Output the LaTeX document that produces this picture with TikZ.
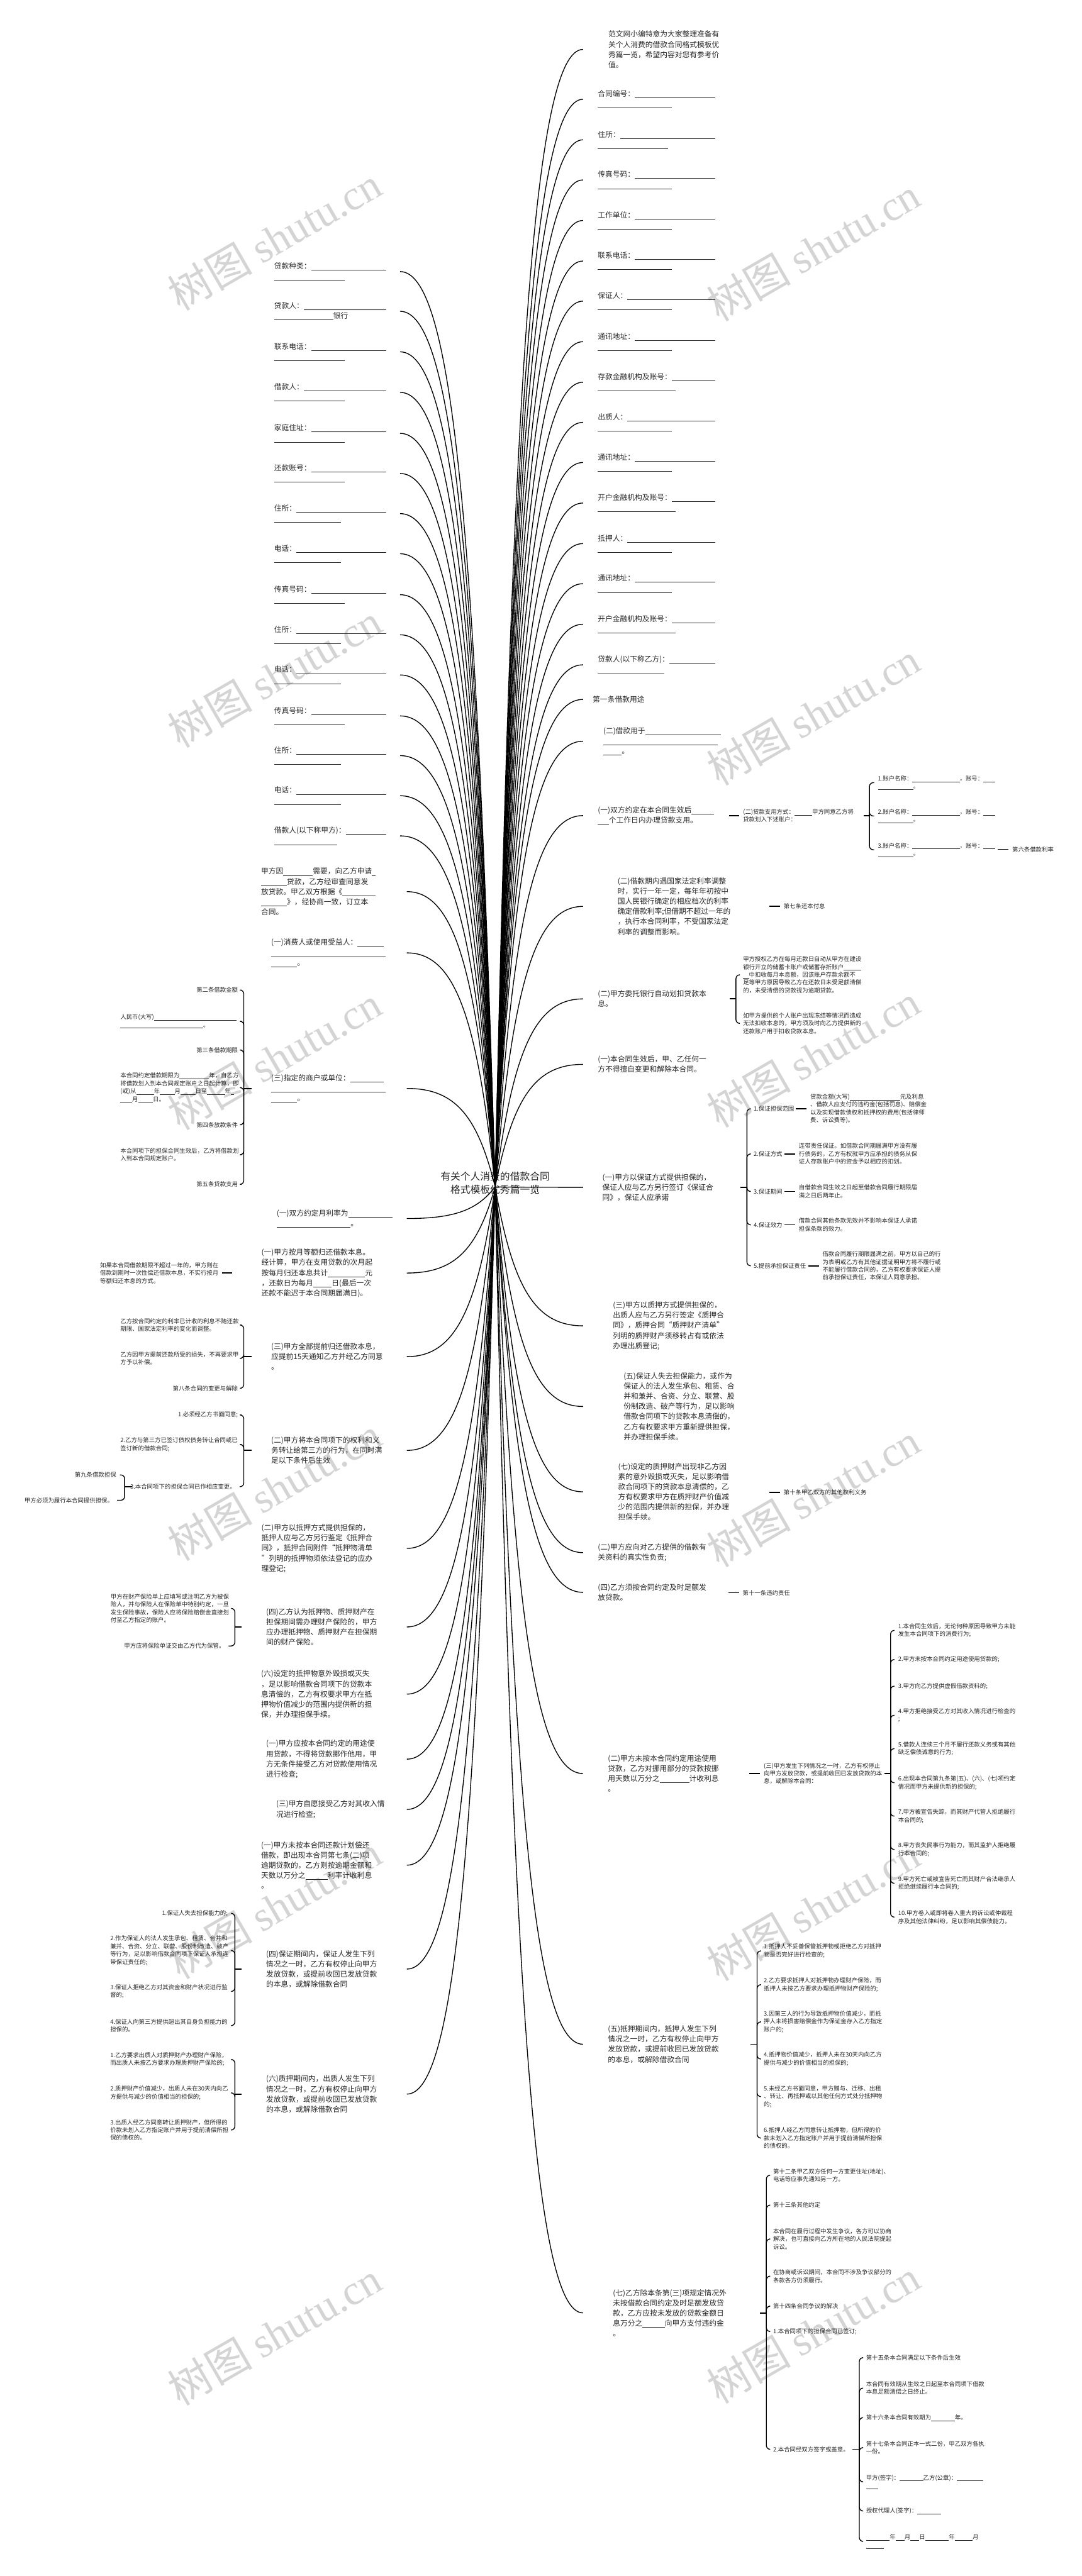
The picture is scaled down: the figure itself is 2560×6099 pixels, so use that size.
\documentclass[tikz,border=0pt]{standalone}
\usepackage{fontspec}
\setmainfont{Noto Sans CJK SC}
\newfontfamily\wmlat{Liberation Serif}
\usetikzlibrary{calc}
\newcommand\us[1]{\rule[-0.2em]{\dimexpr 0.5em*#1\relax}{0.06em}}
\newcommand\ulfill{\leaders\hbox{\rule[-0.2em]{0.5pt}{0.06em}}\hskip 0pt plus 1fill\kern0pt}
\tikzset{
  conn/.style={line width=2pt, black},
  br/.style={line width=2pt, black, rounded corners=9pt},
  tick/.style={line width=2.6pt, black},
  M/.style={inner sep=0pt, outer sep=0pt, anchor=west, align=left, text=black!85, font=\fontsize{17.5}{24}\selectfont},
  S/.style={inner sep=0pt, outer sep=0pt, anchor=west, align=left, text=black!85, font=\fontsize{14}{18.5}\selectfont},
  SE/.style={S, anchor=east},
  SEW/.style={S, anchor=east, text width=278pt},
  wm/.style={rotate=30, text=black!17, inner sep=0pt, font=\fontsize{100}{100}\selectfont},
}
\newcommand\cR[1]{\draw[conn] let \p1=(C), \p2=(RX |- #1.west) in (\p1) .. controls ({\x1+0.2*(\x2-\x1)},{\y1+0.72*(\y2-\y1)}) and ({\x1+0.45*(\x2-\x1)},{\y2}) .. (\p2);}
\newcommand\cL[2]{\draw[conn] let \p1=(C), \p2=(#2 |- #1.east) in (\p1) .. controls ({\x1+0.2*(\x2-\x1)},{\y1+0.72*(\y2-\y1)}) and ({\x1+0.45*(\x2-\x1)},{\y2}) .. (\p2);}
\newcommand\tR[1]{\draw[tick] ([xshift=-34pt]#1.west) -- ([xshift=-9pt]#1.west);}
\newcommand\tL[1]{\draw[tick] ([xshift=8pt]#1.east) -- ([xshift=32pt]#1.east);}
\newcommand\brR[4]{\coordinate (J) at (#2,0 |- #3.west); \draw[tick] (#1,0 |- #3.west) -- (J); \foreach \cc in {#4} {\draw[br] (J) |- ([xshift=-9pt]\cc.west);}}
\newcommand\brL[4]{\coordinate (J) at (#2,0 |- #3.west); \draw[tick] (#1,0 |- #3.west) -- (J); \foreach \cc in {#4} {\draw[br] (J) |- ([xshift=9pt]\cc.east);}}
\newcommand\fR[4]{\node[M, text width=277pt] (#1) at (1415,#2) {#3\ulfill\\\us{#4}};}
\newcommand\fL[4]{\node[M, text width=264pt] (#1) at (649,#2) {#3\ulfill\\#4};}
\begin{document}
\begin{tikzpicture}[x=1pt,y=-1pt]
\useasboundingbox (0,0) rectangle (2560,6099);
\fill[white] (0,0) rectangle (2560,6099);
% watermarks
\foreach \wx/\wy in {650/565, 1925/590, 650/1600, 1925/1690, 650/2505, 1925/2500, 650/3525, 1925/3540, 650/4515, 1925/4520, 650/5525, 1925/5520}
  {\node[wm] at (\wx,\wy) {树图 {\wmlat shutu.cn}};}
\coordinate (C) at (1172,2810);
\coordinate (RX) at (1380,0);
\coordinate (LXa) at (947,0);
\coordinate (LXb) at (963,0);
% title
\node[align=center, inner sep=0pt, text=black!85, font=\fontsize{23.5}{31}\selectfont] (T) at (1172,2801) {有关个人消费的借款合同\\格式模板优秀篇一览};
% ---------------- right column ----------------
\node[M] (r0) at (1440,117) {范文网小编特意为大家整理准备有\\关个人消费的借款合同格式模板优\\秀篇一览，希望内容对您有参考价\\值。};
\fR{rf1}{235}{合同编号：}{20}
\fR{rf2}{331}{住所：}{19}
\fR{rf3}{426}{传真号码：}{20}
\fR{rf4}{522}{工作单位：}{20}
\fR{rf5}{618}{联系电话：}{20}
\fR{rf6}{713}{保证人：}{20}
\fR{rf7}{809}{通讯地址：}{20}
\fR{rf8}{905}{存款金融机构及账号：}{21}
\fR{rf9}{1000}{出质人：}{20}
\fR{rf10}{1095}{通讯地址：}{20}
\fR{rf11}{1191}{开户金融机构及账号：}{21}
\fR{rf12}{1287}{抵押人：}{20}
\fR{rf13}{1382}{通讯地址：}{20}
\fR{rf14}{1478}{开户金融机构及账号：}{21}
\fR{rf15}{1574}{贷款人(以下称乙方)：}{18}
\node[M] (r16) at (1403,1656) {第一条借款用途};
\node[M, text width=277pt] (r17) at (1428,1755) {(二)借款用于\ulfill\\\us{31}\\\us{5}。};
\node[M] (r18) at (1415,1931) {(一)双方约定在本合同生效后\us{6}\\\us{3}个工作日内办理贷款支用。};
\node[S] (r18a) at (1759,1931) {(二)贷款支用方式：\us{6}甲方同意乙方将\\贷款划入下述账户：};
\node[S] (r18b1) at (2078,1853) {1.账户名称：\us{16}，账号：\us{4}\\\us{12}。};
\node[S] (r18b2) at (2078,1932) {2.账户名称：\us{16}，账号：\us{4}\\\us{12}。};
\node[S] (r18b3) at (2078,2012) {3.账户名称：\us{16}，账号：\us{4}\\\us{12}。};
\node[S] (r18c) at (2396,2011) {第六条借款利率};
\node[M] (r19) at (1462,2146) {(二)借款期内遇国家法定利率调整\\时，实行一年一定，每年年初按中\\国人民银行确定的相应档次的利率\\确定借款利率;但借期不超过一年的\\，执行本合同利率，不受国家法定\\利率的调整而影响。};
\node[S] (r19a) at (1855,2146) {第七条还本付息};
\node[M] (r20) at (1415,2365) {(二)甲方委托银行自动划扣贷款本\\息。};
\node[S] (r20a) at (1759,2308) {甲方授权乙方在每月还款日自动从甲方在建设\\银行开立的储蓄卡账户或储蓄存折账户\us{6}\\\us{2}中扣收每月本息额，因该账户存款余额不\\足等甲方原因导致乙方在还款日未受足额清偿\\的，未受清偿的贷款视为逾期贷款。};
\node[S] (r20b) at (1759,2423) {如甲方提供的个人账户出现冻结等情况而造成\\无法扣收本息的，甲方须及时向乙方提供新的\\还款账户用于扣收贷款本息。};
\node[M] (r21) at (1415,2520) {(一)本合同生效后，甲、乙任何一\\方不得擅自变更和解除本合同。};
\node[M] (r22) at (1426,2811) {(一)甲方以保证方式提供担保的，\\保证人应与乙方另行签订《保证合\\同》，保证人应承诺};
\node[S] (k1) at (1784,2625) {1.保证担保范围};
\node[S] (k2) at (1784,2732) {2.保证方式};
\node[S] (k3) at (1784,2821) {3.保证期间};
\node[S] (k4) at (1784,2900) {4.保证效力};
\node[S] (k5) at (1784,2997) {5.提前承担保证责任};
\node[S] (k1a) at (1918,2625) {贷款金额(大写)\us{17}元及利息\\、借款人应支付的违约金(包括罚息)、赔偿金\\以及实现借款债权和抵押权的费用(包括律师\\费、诉讼费等)。};
\node[S] (k2a) at (1891,2732) {连带责任保证。如借款合同期届满甲方没有履\\行债务的，乙方有权就甲方应承担的债务从保\\证人存款账户中的资金予以相应的扣划。};
\node[S] (k3a) at (1891,2821) {自借款合同生效之日起至借款合同履行期限届\\满之日后两年止。};
\node[S] (k4a) at (1891,2900) {借款合同其他条款无效并不影响本保证人承诺\\担保条款的效力。};
\node[S] (k5a) at (1947,2997) {借款合同履行期限届满之前，甲方以自己的行\\为表明或乙方有其他证据证明甲方将不履行或\\不能履行借款合同的，乙方有权要求保证人提\\前承担保证责任，本保证人同意承担。};
\node[M] (r23) at (1451,3139) {(三)甲方以质押方式提供担保的，\\出质人应与乙方另行签定《质押合\\同》，质押合同“质押财产清单”\\列明的质押财产须移转占有或依法\\办理出质登记;};
\node[M] (r24) at (1476,3330) {(五)保证人失去担保能力，或作为\\保证人的法人发生承包、租赁、合\\并和兼并、合资、分立、联营、股\\份制改造、破产等行为，足以影响\\借款合同项下的贷款本息清偿的，\\乙方有权要求甲方重新提供担保，\\并办理担保手续。};
\node[M] (r25) at (1463,3532) {(七)设定的质押财产出现非乙方因\\素的意外毁损或灭失，足以影响借\\款合同项下的贷款本息清偿的，乙\\方有权要求甲方在质押财产价值减\\少的范围内提供新的担保，并办理\\担保手续。};
\node[S] (r25a) at (1855,3533) {第十条甲乙双方的其他权利义务};
\node[M] (r26) at (1415,3676) {(二)甲方应向对乙方提供的借款有\\关资料的真实性负责;};
\node[M] (r27) at (1415,3770) {(四)乙方须按合同约定及时足额发\\放贷款。};
\node[S] (r27a) at (1758,3771) {第十一条违约责任};
\node[M] (r28) at (1439,4199) {(二)甲方未按本合同约定用途使用\\贷款，乙方对挪用部分的贷款按挪\\用天数以万分之\us{8}计收利息\\。};
\node[S] (r28a) at (1808,4199) {(三)甲方发生下列情况之一时，乙方有权停止\\向甲方发放贷款，或提前收回已发放贷款的本\\息，或解除本合同：};
\node[S] (r28b1) at (2126,3860) {1.本合同生效后，无论何种原因导致甲方未能\\发生本合同项下的消费行为;};
\node[S] (r28b2) at (2126,3929) {2.甲方未按本合同约定用途使用贷款的;};
\node[S] (r28b3) at (2126,3992) {3.甲方向乙方提供虚假借款资料的;};
\node[S] (r28b4) at (2126,4061) {4.甲方拒绝接受乙方对其收入情况进行检查的\\;};
\node[S] (r28b5) at (2126,4140) {5.借款人连续三个月不履行还款义务或有其他\\缺乏偿债诚意的行为;};
\node[S] (r28b6) at (2126,4221) {6.出现本合同第九条第(五)、(六)、(七)项约定\\情况而甲方未提供新的担保的;};
\node[S] (r28b7) at (2126,4300) {7.甲方被宣告失踪，而其财产代管人拒绝履行\\本合同的;};
\node[S] (r28b8) at (2126,4379) {8.甲方丧失民事行为能力，而其监护人拒绝履\\行本合同的;};
\node[S] (r28b9) at (2126,4459) {9.甲方死亡或被宣告死亡而其财产合法继承人\\拒绝继续履行本合同的;};
\node[S] (r28b10) at (2126,4539) {10.甲方卷入或即将卷入重大的诉讼或仲裁程\\序及其他法律纠纷，足以影响其偿债能力。};
\node[M] (r29) at (1439,4840) {(五)抵押期间内，抵押人发生下列\\情况之一时，乙方有权停止向甲方\\发放贷款，或提前收回已发放贷款\\的本息，或解除借款合同};
\node[S] (r29b1) at (1808,4619) {1.抵押人不妥善保管抵押物或拒绝乙方对抵押\\物是否完好进行检查的;};
\node[S] (r29b2) at (1808,4699) {2.乙方要求抵押人对抵押物办理财产保险，而\\抵押人未按乙方要求办理抵押物财产保险的;};
\node[S] (r29b3) at (1808,4787) {3.因第三人的行为导致抵押物价值减少，而抵\\押人未将损害赔偿金作为保证金存入乙方指定\\账户的;};
\node[S] (r29b4) at (1808,4875) {4.抵押物价值减少，抵押人未在30天内向乙方\\提供与减少的价值相当的担保的;};
\node[S] (r29b5) at (1808,4964) {5.未经乙方书面同意，甲方赠与、迁移、出租\\、转让、再抵押或以其他任何方式处分抵押物\\的;};
\node[S] (r29b6) at (1808,5062) {6.抵押人经乙方同意转让抵押物，但所得的价\\款未划入乙方指定账户并用于提前清偿所担保\\的债权的。};
\node[M] (r30) at (1451,5476) {(七)乙方除本条第(三)项规定情况外\\未按借款合同约定及时足额发放贷\\款，乙方应按未发放的贷款金额日\\息万分之\us{6}向甲方支付违约金\\。};
\node[S] (r30b1) at (1830,5150) {第十二条甲乙双方任何一方变更住址(地址)、\\电话等应事先通知另一方。};
\node[S] (r30b2) at (1830,5221) {第十三条其他约定};
\node[S] (r30b3) at (1830,5301) {本合同在履行过程中发生争议，各方可以协商\\解决，也可直接向乙方所在地的人民法院提起\\诉讼。};
\node[S] (r30b4) at (1830,5389) {在协商或诉讼期间，本合同不涉及争议部分的\\条款各方仍须履行。};
\node[S] (r30b5) at (1830,5460) {第十四条合同争议的解决};
\node[S] (r30b6) at (1830,5520) {1.本合同项下的担保合同已签订;};
\node[S] (r30b7) at (1830,5799) {2.本合同经双方签字或盖章。};
\node[S] (r30c1) at (2050,5582) {第十五条本合同满足以下条件后生效};
\node[S] (r30c2) at (2050,5654) {本合同有效期从生效之日起至本合同项下借款\\本息足额清偿之日终止。};
\node[S] (r30c3) at (2050,5724) {第十六条本合同有效期为\us{8}年。};
\node[S] (r30c4) at (2050,5795) {第十七条本合同正本一式二份，甲乙双方各执\\一份。};
\node[S] (r30c5) at (2050,5876) {甲方(签字)：\us{8}乙方(公章)：\us{9}\\\us{4}};
\node[S] (r30c6) at (2050,5945) {授权代理人(签字)：\us{8}};
\node[S] (r30c7) at (2050,6017) {\us{8}年\us{3}月\us{3}日\us{8}年\us{6}月\\\us{6}};
% ---------------- left column ----------------
\fL{lf1}{643}{贷款种类：}{\us{19}}
\fL{lf2}{737}{贷款人：}{\us{16}银行}
\fL{lf3}{833}{联系电话：}{\us{19}}
\fL{lf4}{929}{借款人：}{\us{19}}
\fL{lf5}{1026}{家庭住址：}{\us{19}}
\fL{lf6}{1121}{还款账号：}{\us{19}}
\fL{lf7}{1216}{住所：}{\us{18}}
\fL{lf8}{1311}{电话：}{\us{18}}
\fL{lf9}{1408}{传真号码：}{\us{19}}
\fL{lf10}{1503}{住所：}{\us{18}}
\fL{lf11}{1598}{电话：}{\us{18}}
\fL{lf12}{1695}{传真号码：}{\us{19}}
\fL{lf13}{1789}{住所：}{\us{18}}
\fL{lf14}{1884}{电话：}{\us{18}}
\fL{lf15}{1979}{借款人(以下称甲方)：}{\us{17}}
\node[M] (l16) at (618,2111) {甲方因\us{8}需要，向乙方申请\us{1}\\\us{7}贷款，乙方经审查同意发\\放贷款。甲乙双方根据《\us{9}\\\us{7}》，经协商一致，订立本\\合同。};
\node[M] (l17) at (642,2256) {(一)消费人或使用受益人：\us{7}\\\us{31}\\\us{7}。};
\node[M] (l18) at (642,2577) {(三)指定的商户或单位：\us{9}\\\us{31}\\\us{7}。};
\node[SE] (l18a) at (563,2344) {第二条借款金额};
\node[SEW] (l18b) at (563,2418) {人民币(大写)\us{28}\\\us{28}。};
\node[SE] (l18c) at (563,2486) {第三条借款期限};
\node[SEW] (l18d) at (563,2575) {本合同约定借款期限为\us{10}年，自乙方\\将借款划入到本合同规定账户之日起计算，即\\(或)从\us{6}年\us{5}月\us{5}日至\us{6}年\us{1}\\\us{4}月\us{5}日。};
\node[SE] (l18e) at (563,2663) {第四条放款条件};
\node[SEW] (l18f) at (563,2734) {本合同项下的担保合同生效后，乙方将借款划\\入到本合同规定账户。};
\node[SE] (l18g) at (563,2804) {第五条贷款支用};
\node[M] (l19) at (655,2885) {(一)双方约定月利率为\us{12}\\\us{20}。};
\node[M] (l20) at (619,3014) {(一)甲方按月等额归还借款本息。\\经计算，甲方在支用贷款的次月起\\按每月归还本息共计\us{10}元\\，还款日为每月\us{5}日(最后一次\\还款不能迟于本合同期届满日)。};
\node[S, anchor=east, text width=280pt] (l20a) at (517,3014) {如果本合同借款期限不超过一年的，甲方则在\\借款到期时一次性偿还借款本息，不实行按月\\等额归还本息的方式。};
\node[M] (l21) at (642,3212) {(三)甲方全部提前归还借款本息，\\应提前15天通知乙方并经乙方同意\\。};
\node[SEW] (l21a) at (563,3137) {乙方按合同约定的利率已计收的利息不随还款\\期限、国家法定利率的变化而调整。};
\node[SEW] (l21b) at (563,3216) {乙方因甲方提前还款所受的损失，不再要求甲\\方予以补偿。};
\node[SE] (l21c) at (563,3287) {第八条合同的变更与解除};
\node[M] (l22) at (642,3434) {(二)甲方将本合同项下的权利和义\\务转让给第三方的行为，在同时满\\足以下条件后生效};
\node[SE] (l22a) at (563,3350) {1.必须经乙方书面同意;};
\node[SEW] (l22b) at (563,3420) {2.乙方与第三方已签订债权债务转让合同或已\\签订新的借款合同;};
\node[SE] (l22c) at (558,3520) {3.本合同项下的担保合同已作相应变更。};
\node[SE] (l22c1) at (275,3492) {第九条借款担保};
\node[SE] (l22c2) at (268,3552) {甲方必须为履行本合同提供担保。};
\node[M] (l23) at (619,3666) {(二)甲方以抵押方式提供担保的，\\抵押人应与乙方另行鉴定《抵押合\\同》，抵押合同附件“抵押物清单\\”列明的抵押物须依法登记的应办\\理登记;};
\node[M] (l24) at (630,3852) {(四)乙方认为抵押物、质押财产在\\担保期间需办理财产保险的，甲方\\应办理抵押物、质押财产在担保期\\间的财产保险。};
\node[S, anchor=east, text width=278pt] (l24a) at (540,3808) {甲方在财产保险单上应填写或注明乙方为被保\\险人，并与保险人在保险单中特别约定，一旦\\发生保险事故，保险人应将保险赔偿金直接划\\付至乙方指定的账户。};
\node[SE] (l24b) at (532,3897) {甲方应将保险单证交由乙方代为保管。};
\node[M] (l25) at (618,4011) {(六)设定的抵押物意外毁损或灭失\\，足以影响借款合同项下的贷款本\\息清偿的，乙方有权要求甲方在抵\\押物价值减少的范围内提供新的担\\保，并办理担保手续。};
\node[M] (l26) at (630,4165) {(一)甲方应按本合同约定的用途使\\用贷款，不得将贷款挪作他用，甲\\方无条件接受乙方对贷款使用情况\\进行检查;};
\node[M] (l27) at (654,4284) {(三)甲方自愿接受乙方对其收入情\\况进行检查;};
\node[M] (l28) at (618,4416) {(一)甲方未按本合同还款计划偿还\\借款，即出现本合同第七条(二)项\\逾期贷款的，乙方则按逾期金额和\\天数以万分之\us{6}利率计收利息\\。};
\node[M] (l29) at (630,4662) {(四)保证期间内，保证人发生下列\\情况之一时，乙方有权停止向甲方\\发放贷款，或提前收回已发放贷款\\的本息，或解除借款合同};
\node[SE] (l29a) at (539,4530) {1.保证人失去担保能力的;};
\node[S, anchor=east, text width=278pt] (l29b) at (539,4618) {2.作为保证人的法人发生承包、租赁、合并和\\兼并、合资、分立、联营、股份制改造、破产\\等行为，足以影响借款合同项下保证人承担连\\带保证责任的;};
\node[S, anchor=east, text width=278pt] (l29c) at (539,4715) {3.保证人拒绝乙方对其资金和财产状况进行监\\督的;};
\node[S, anchor=east, text width=278pt] (l29d) at (539,4796) {4.保证人向第三方提供超出其自身负担能力的\\担保的。};
\node[M] (l30) at (630,4958) {(六)质押期间内，出质人发生下列\\情况之一时，乙方有权停止向甲方\\发放贷款，或提前收回已发放贷款\\的本息，或解除借款合同};
\node[S, anchor=east, text width=278pt] (l30a) at (539,4876) {1.乙方要求出质人对质押财产办理财产保险，\\而出质人未按乙方要求办理质押财产保险的;};
\node[S, anchor=east, text width=278pt] (l30b) at (539,4955) {2.质押财产价值减少，出质人未在30天内向乙\\方提供与减少的价值相当的担保的;};
\node[S, anchor=east, text width=278pt] (l30c) at (539,5043) {3.出质人经乙方同意转让质押财产，但所得的\\价款未划入乙方指定账户并用于提前清偿所担\\保的债权的。};
% ---------------- connectors from centre ----------------
\foreach \nn in {r0,rf1,rf2,rf3,rf4,rf5,rf6,rf7,rf8,rf9,rf10,rf11,rf12,rf13,rf14,rf15,r16,r17,r18,r19,r20,r21,r22,r23,r24,r25,r26,r27,r28,r29,r30} {\cR{\nn}}
\foreach \nn in {lf1,lf2,lf3,lf4,lf5,lf6,lf7,lf8,lf9,lf10,lf11,lf12,lf13,lf14,lf15} {\cL{\nn}{LXa}}
\foreach \nn in {l16,l17,l18,l19,l20,l21,l22,l23,l24,l25,l26,l27,l28,l29,l30} {\cL{\nn}{LXb}}
% ---------------- single child ticks ----------------
\tR{r18a} \tR{r18c} \tR{r19a} \tR{r25a} \tR{r27a} \tR{r28a}
\tR{k1a} \tR{k2a} \tR{k3a} \tR{k4a} \tR{k5a}
\tL{l20a}
% ---------------- brackets ----------------
\brR{2044}{2058}{r18a}{r18b1,r18b2,r18b3}
\brR{1727}{1742}{r20}{r20a,r20b}
\brR{1752}{1768}{r22}{k1,k2,k3,k4,k5}
\brR{2093}{2108}{r28a}{r28b1,r28b2,r28b3,r28b4,r28b5,r28b6,r28b7,r28b8,r28b9,r28b10}
\brR{1776}{1792}{r29}{r29b1,r29b2,r29b3,r29b4,r29b5,r29b6}
\brR{1798}{1814}{r30}{r30b1,r30b2,r30b3,r30b4,r30b5,r30b6,r30b7}
\brR{2018}{2034}{r30b7}{r30c1,r30c2,r30c3,r30c4,r30c5,r30c6,r30c7}
\brL{596}{577}{l18}{l18a,l18b,l18c,l18d,l18e,l18f,l18g}
\brL{596}{577}{l21}{l21a,l21b,l21c}
\brL{596}{577}{l22}{l22a,l22b,l22c}
\brL{312}{295}{l22c}{l22c1,l22c2}
\brL{572}{556}{l24}{l24a,l24b}
\brL{572}{556}{l29}{l29a,l29b,l29c,l29d}
\brL{572}{556}{l30}{l30a,l30b,l30c}
\end{tikzpicture}
\end{document}
